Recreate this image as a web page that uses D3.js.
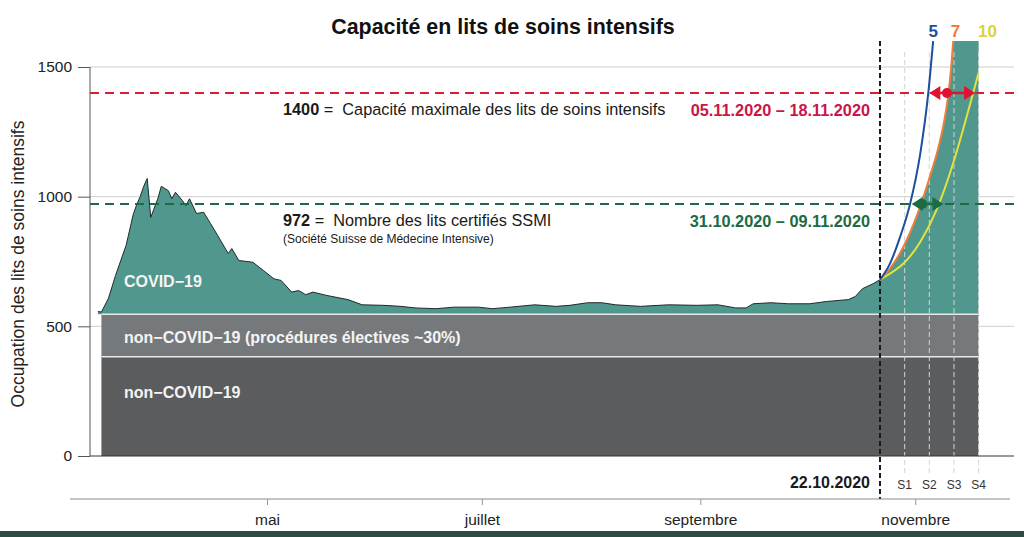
<!DOCTYPE html>
<html><head><meta charset="utf-8">
<script src="https://cdn.jsdelivr.net/npm/d3@7"></script>
<style>
body{margin:0;background:#fff}
svg{display:block}
text{font-family:"Liberation Sans",Arial,Helvetica,sans-serif}
</style>
</head><body>
<svg id="c" width="1024" height="537"></svg>
<script>
// ---------- DATA ----------
const titleText = "Capacité en lits de soins intensifs";
const yLabel = "Occupation des lits de soins intensifs";
const yTicks = [0, 500, 1000, 1500];
const monthTicks = ["2020-05-01", "2020-07-01", "2020-09-01", "2020-11-01"];
const monthLabels = ["mai", "juillet", "septembre", "novembre"];

// total occupancy (non-COVID + COVID)
const covidDates = ["2020-03-14","2020-03-15","2020-03-17","2020-03-19","2020-03-22","2020-03-24","2020-03-25","2020-03-26","2020-03-27","2020-03-28","2020-03-29","2020-03-31","2020-04-01","2020-04-03","2020-04-04","2020-04-05","2020-04-07","2020-04-08","2020-04-09","2020-04-11","2020-04-13","2020-04-15","2020-04-17","2020-04-20","2020-04-21","2020-04-23","2020-04-27","2020-04-30","2020-05-03","2020-05-05","2020-05-08","2020-05-10","2020-05-12","2020-05-14","2020-05-18","2020-05-24","2020-05-28","2020-06-03","2020-06-08","2020-06-12","2020-06-18","2020-06-23","2020-06-30","2020-07-04","2020-07-09","2020-07-16","2020-07-22","2020-07-26","2020-07-31","2020-08-04","2020-08-08","2020-08-15","2020-08-23","2020-08-31","2020-09-06","2020-09-11","2020-09-14","2020-09-16","2020-09-21","2020-09-26","2020-10-02","2020-10-07","2020-10-13","2020-10-15","2020-10-17","2020-10-20","2020-10-22"];
const covidTotals = [557,555,608,696,812,930,969,1000,1040,1070,920,992,1040,1023,992,1017,985,965,992,935,940,896,850,781,800,754,747,715,683,677,632,638,622,632,619,603,583,581,577,571,568,574,574,568,574,583,577,581,591,591,583,577,583,581,583,571,571,587,591,587,587,596,603,615,645,664,680];

const nonCovidBeds = 383;      // non-COVID-19
const electiveBeds = 164;      // procédures électives ~30%
const segmentStart = "2020-03-15";
const segmentEnd = "2020-11-19";

// projections (doubling time 5 / 7 / 10 days): days after 22.10.2020, total occupancy
const projStart = "2020-10-22";
const proj5Days = [0, 2.8, 5.7, 8.5, 11.4, 13.7, 15.1];
const proj5Vals = [680, 741, 845, 970, 1165, 1400, 1600];
const proj7Days = [0, 2.8, 6.6, 10.4, 14.2, 16.6, 18.2, 19.4, 20.2, 20.8];
const proj7Vals = [680, 722, 805, 925, 1080, 1190, 1290, 1395, 1500, 1600];
const proj10Days = [0, 2.8, 6.6, 11.4, 16.1, 20.8, 25.6, 28];
const proj10Vals = [680, 703, 741, 825, 950, 1130, 1357, 1478];
const projLabels = ["5", "7", "10"];
const plotCap = 1600;

const weekLabels = ["S1", "S2", "S3", "S4"];
const weekDates = ["2020-10-29", "2020-11-05", "2020-11-12", "2020-11-19"];
const markerDateLabel = "22.10.2020";

const capMax = 1400, capMaxText = "Capacité maximale des lits de soins intensifs";
const capMaxRange = ["2020-11-05", "2020-11-18"], capMaxDot = "2020-11-10";
const capMaxRangeText = "05.11.2020 – 18.11.2020";
const capSSMI = 972, capSSMIText = "Nombre des lits certifiés SSMI";
const capSSMISub = "(Société Suisse de Médecine Intensive)";
const capSSMIRange = ["2020-10-31", "2020-11-09"], capSSMIDot = "2020-11-03";
const capSSMIRangeText = "31.10.2020 – 09.11.2020";

const areaLabels = ["COVID−19", "non−COVID−19 (procédures électives ~30%)", "non−COVID−19"];

// ---------- STYLE ----------
const C = {
  teal: "#50978e", mid: "#76797c", dark: "#5a5c5e",
  red: "#d81e33", redText: "#cc1447", green: "#1c6b43",
  blue: "#1c4f9c", orange: "#f07d3c", yellow: "#e0e43c", yellowText: "#d8d43a",
  grid: "#cfcfcf", axis: "#555"
};

const svg = d3.select("#c");
const P = d3.timeParse("%Y-%m-%d");
const x = d3.scaleTime().domain([P("2020-05-01"), P("2020-10-22")]).range([267, 880]);
const y = d3.scaleLinear().domain([0, 1500]).range([456, 67]);
const xL = 90, xR = 1014;

const dayAfter = (d) => d3.timeHour.offset(P(projStart), Math.round(d * 24));

const defs = svg.append("defs");
defs.append("clipPath").attr("id", "capclip").append("rect")
  .attr("x", 0).attr("y", y(plotCap)).attr("width", 1024).attr("height", 600);

// gridlines
svg.append("g").selectAll("line").data(yTicks.filter(v => v > 0)).join("line")
  .attr("x1", xL).attr("x2", xR).attr("y1", d => y(d)).attr("y2", d => y(d))
  .attr("stroke", C.grid).attr("stroke-width", 1);

// stacked non-covid blocks
const xs = x(P(segmentStart)), xe = x(P(segmentEnd));
svg.append("rect").attr("x", xs).attr("width", xe - xs)
  .attr("y", y(nonCovidBeds)).attr("height", y(0) - y(nonCovidBeds)).attr("fill", C.dark);
svg.append("rect").attr("x", xs).attr("width", xe - xs)
  .attr("y", y(nonCovidBeds + electiveBeds)).attr("height", y(nonCovidBeds) - y(nonCovidBeds + electiveBeds)).attr("fill", C.mid);

// covid area
const base = nonCovidBeds + electiveBeds;
const covid = covidDates.map((d, i) => ({ date: P(d), v: covidTotals[i] }));
svg.append("path").datum(covid)
  .attr("d", d3.area().x(d => x(d.date)).y0(y(base)).y1(d => y(d.v)))
  .attr("fill", C.teal);

// projection area (7-day doubling) capped at plot top
const p7 = proj7Days.map((d, i) => ({ date: dayAfter(d), v: proj7Vals[i] }));
const p7area = p7.concat([{ date: P(segmentEnd), v: plotCap }]);
svg.append("path").datum(p7area)
  .attr("d", d3.area().curve(d3.curveMonotoneX).x(d => x(d.date)).y0(y(base)).y1(d => y(Math.min(d.v, plotCap))))
  .attr("fill", C.teal);

// separators
[nonCovidBeds, base].forEach(v => {
  svg.append("line").attr("x1", xs).attr("x2", xe).attr("y1", y(v)).attr("y2", y(v))
    .attr("stroke", "#e8e8e8").attr("stroke-width", 1.5);
});

// covid outline
svg.append("path").datum(covid)
  .attr("d", d3.line().x(d => x(d.date)).y(d => y(d.v)))
  .attr("fill", "none").attr("stroke", "#1e2b2a").attr("stroke-width", 1);

// week dashed lines
svg.append("g").selectAll("line").data(weekDates).join("line")
  .attr("x1", d => x(P(d))).attr("x2", d => x(P(d)))
  .attr("y1", 52).attr("y2", 474)
  .attr("stroke", "#d4d4d4").attr("stroke-width", 1).attr("stroke-dasharray", "5,3");

// projection lines
const projSets = [
  { days: proj10Days, vals: proj10Vals, color: C.yellow },
  { days: proj7Days, vals: proj7Vals, color: C.orange },
  { days: proj5Days, vals: proj5Vals, color: C.blue }
];
projSets.forEach(s => {
  const pts = s.days.map((d, i) => ({ date: dayAfter(d), v: s.vals[i] }));
  svg.append("path").datum(pts)
    .attr("d", d3.line().curve(d3.curveMonotoneX).x(d => x(d.date)).y(d => y(d.v)))
    .attr("fill", "none").attr("stroke", s.color).attr("stroke-width", 2)
    .attr("clip-path", "url(#capclip)");
});

// capacity dashed lines
svg.append("line").attr("x1", xL).attr("x2", xR).attr("y1", y(capMax)).attr("y2", y(capMax))
  .attr("stroke", C.red).attr("stroke-width", 2).attr("stroke-dasharray", "9,6");
svg.append("line").attr("x1", xL).attr("x2", xR).attr("y1", y(capSSMI)).attr("y2", y(capSSMI))
  .attr("stroke", C.green).attr("stroke-width", 2).attr("stroke-dasharray", "9,6");

// arrows
function arrow(range, dot, v, color) {
  const x1 = x(P(range[0])), x2 = x(P(range[1])), yy = y(v);
  const g = svg.append("g");
  const L = 11, H = 7;
  g.append("line").attr("x1", x1 + L - 1).attr("x2", x2 - L + 1).attr("y1", yy).attr("y2", yy)
    .attr("stroke", color).attr("stroke-width", 2.5);
  g.append("path").attr("d", `M${x1},${yy}L${x1 + L},${yy - H}L${x1 + L},${yy + H}Z`).attr("fill", color);
  g.append("path").attr("d", `M${x2},${yy}L${x2 - L},${yy - H}L${x2 - L},${yy + H}Z`).attr("fill", color);
  g.append("circle").attr("cx", x(P(dot))).attr("cy", yy).attr("r", 5).attr("fill", color);
}
arrow(capMaxRange, capMaxDot, capMax, "#e3102f");
arrow(capSSMIRange, capSSMIDot, capSSMI, C.green);

// 22.10 marker
const xm = x(P(projStart));
svg.append("line").attr("x1", xm).attr("x2", xm).attr("y1", 41).attr("y2", 499)
  .attr("stroke", "#1a1a1a").attr("stroke-width", 2).attr("stroke-dasharray", "5,3");

// axes
const yAxis = svg.append("g").attr("transform", `translate(${xL},0)`)
  .call(d3.axisLeft(y).tickValues(yTicks).tickSize(12).tickPadding(6).tickFormat(d3.format("d")));
yAxis.select(".domain").attr("stroke", C.axis).attr("d", `M0,${y(1500)}V${y(0)}`);
yAxis.selectAll(".tick line").attr("stroke", C.axis);
yAxis.selectAll(".tick text").attr("font-size", 15.5).attr("fill", "#222")
  .style("font-family", '"Liberation Sans",Arial,sans-serif');

svg.append("line").attr("x1", xL).attr("x2", xR).attr("y1", y(0)).attr("y2", y(0))
  .attr("stroke", "#333").attr("stroke-width", 1.2);

const xAxis = svg.append("g").attr("transform", "translate(0,499)")
  .call(d3.axisBottom(x).tickValues(monthTicks.map(P)).tickSize(6).tickPadding(9)
    .tickFormat((d, i) => monthLabels[i]));
xAxis.select(".domain").attr("stroke", "#888").attr("d", `M70,0H1010`);
xAxis.selectAll(".tick line").attr("stroke", "#999");
xAxis.selectAll(".tick text").attr("font-size", 15.5).attr("fill", "#222")
  .style("font-family", '"Liberation Sans",Arial,sans-serif');

// week labels
svg.append("g").selectAll("text").data(weekLabels).join("text")
  .attr("x", (d, i) => x(P(weekDates[i]))).attr("y", 489)
  .attr("text-anchor", "middle").attr("font-size", 12).attr("fill", "#333").text(d => d);

svg.append("text").attr("x", xm - 10).attr("y", 488).attr("text-anchor", "end")
  .attr("font-size", 16).attr("font-weight", "bold").attr("fill", "#1a1a1a").text(markerDateLabel);

// title
svg.append("text").attr("x", 503).attr("y", 34).attr("text-anchor", "middle")
  .attr("font-size", 21.4).attr("font-weight", "bold").attr("fill", "#111").text(titleText);

// y label
svg.append("text").attr("transform", `translate(24,${264}) rotate(-90)`)
  .attr("text-anchor", "middle").attr("font-size", 17.5).attr("fill", "#222").text(yLabel);

// annotations
const t1 = svg.append("text").attr("x", 283).attr("y", 115).attr("font-size", 16.3).attr("fill", "#1a1a1a");
t1.append("tspan").attr("font-weight", "bold").text(capMax);
t1.append("tspan").text("\u00a0=\u00a0\u00a0" + capMaxText);
svg.append("text").attr("x", 870).attr("y", 116).attr("text-anchor", "end")
  .attr("font-size", 16.3).attr("font-weight", "bold").attr("fill", C.redText).text(capMaxRangeText);

const t2 = svg.append("text").attr("x", 283).attr("y", 226).attr("font-size", 16.3).attr("fill", "#1a1a1a");
t2.append("tspan").attr("font-weight", "bold").text(capSSMI);
t2.append("tspan").text("\u00a0=\u00a0\u00a0" + capSSMIText);
svg.append("text").attr("x", 283).attr("y", 243).attr("font-size", 12).attr("fill", "#1a1a1a").text(capSSMISub);
svg.append("text").attr("x", 870).attr("y", 227).attr("text-anchor", "end")
  .attr("font-size", 16.3).attr("font-weight", "bold").attr("fill", C.green).text(capSSMIRangeText);

// area labels
const labY = [287, 343, 398];
areaLabels.forEach((t, i) => {
  svg.append("text").attr("x", 124).attr("y", labY[i]).attr("font-size", 16)
    .attr("font-weight", "bold").attr("fill", "#f4f4f4").text(t);
});

// projection labels
const projLabelColors = [C.blue, C.orange, C.yellowText];
const projLabelX = [x(dayAfter(15.1)), x(dayAfter(21.4)), x(dayAfter(30.5))];
projLabels.forEach((t, i) => {
  svg.append("text").attr("x", projLabelX[i]).attr("y", 37).attr("text-anchor", "middle")
    .attr("font-size", 17).attr("font-weight", "bold").attr("fill", projLabelColors[i]).text(t);
});

// bottom band
svg.append("rect").attr("x", 0).attr("y", 531).attr("width", 1024).attr("height", 6).attr("fill", "#2d4a45");
</script>
</body></html>
